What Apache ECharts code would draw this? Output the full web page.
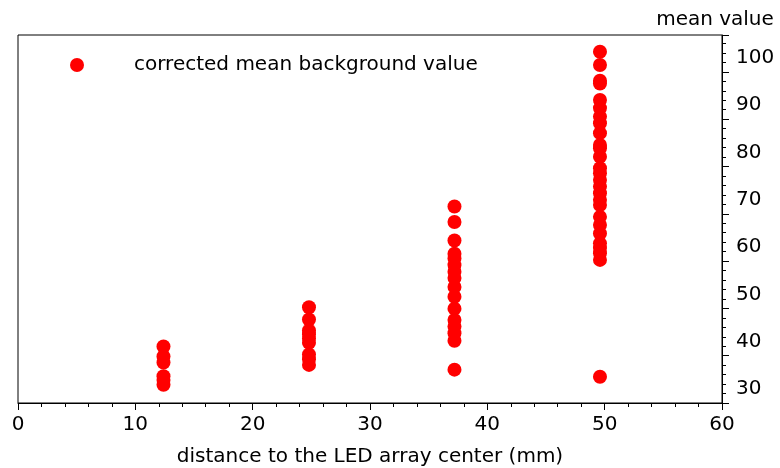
<!DOCTYPE html>
<html>
<head>
<meta charset="utf-8">
<script src="https://cdn.jsdelivr.net/npm/echarts@6/dist/echarts.min.js"></script>
<style>html,body{margin:0;padding:0;background:#fff}#c{width:780px;height:468px}</style>
</head>
<body>
<div id="c"></div>
<script>
const distances = [12.4, 24.8, 37.2, 49.6];
const values12 = [39.0, 36.9, 35.6, 32.7, 31.9, 30.9];
const values25 = [47.3, 44.7, 42.4, 41.6, 40.7, 39.8, 37.3, 36.3, 35.1];
const values37 = [68.6, 65.3, 61.4, 58.6, 57.6, 56.2, 54.8, 53.5, 51.6, 49.5, 47.0, 44.6, 43.2, 41.8, 40.2, 34.1];
const values50 = [101.3, 98.5, 95.2, 94.6, 91.1, 89.4, 87.6, 86.2, 84.1, 81.6, 80.9, 79.1, 76.7, 75.6, 74.2, 72.8, 71.4, 70.0, 68.9, 66.4, 64.7, 62.9, 60.8, 59.8, 58.7, 57.3, 32.6];
const seriesName = 'corrected mean background value';
const xTicks = [0, 10, 20, 30, 40, 50, 60];
const yTicks = [30, 40, 50, 60, 70, 80, 90, 100];

const groups = [values12, values25, values37, values50];
const points = [];
groups.forEach((g, i) => g.forEach(v => points.push([distances[i], v])));

const font = 'DejaVu Sans';
const fs = 20;
const chart = echarts.init(document.getElementById('c'), null, {renderer: 'canvas'});
chart.setOption({
  animation: false,
  backgroundColor: '#fff',
  grid: {left: 18, right: 58, top: 35, bottom: 65, show: true, borderColor: '#000', borderWidth: 1,
    containLabel: false, outerBoundsMode: 'none'},
  legend: {
    left: 70, top: 55, padding: 0,
    icon: 'circle', itemWidth: 14, itemHeight: 14,
    textStyle: {fontFamily: font, fontSize: fs, color: '#000', padding: [0, 0, 0, 45]},
    data: [seriesName]
  },
  xAxis: {
    type: 'value', min: 0, max: 60, interval: 10,
    name: 'distance to the LED array center (mm)', nameLocation: 'middle', nameGap: 44,
    nameTextStyle: {fontFamily: font, fontSize: fs, color: '#000'},
    axisLine: {show: true, onZero: false, lineStyle: {color: '#000', width: 1}},
    axisTick: {show: true, inside: false, length: 7, lineStyle: {color: '#000'}},
    minorTick: {show: true, splitNumber: 5, length: 4, lineStyle: {color: '#000'}},
    axisLabel: {fontFamily: font, fontSize: fs, color: '#000', margin: 12},
    splitLine: {show: false}
  },
  yAxis: {
    type: 'value', position: 'right', min: 27.05, max: 104.85, interval: 10,
    name: 'mean value', nameLocation: 'end', nameGap: 5,
    nameTextStyle: {fontFamily: font, fontSize: fs, color: '#000', align: 'center', padding: [0, 0, 0, -14]},
    axisLine: {show: true, onZero: false, lineStyle: {color: '#000', width: 1}},
    axisTick: {show: true, inside: false, length: 7, lineStyle: {color: '#000'}},
    minorTick: {show: true, splitNumber: 5, length: 4, lineStyle: {color: '#000'}},
    axisLabel: {fontFamily: font, fontSize: fs, color: '#000', margin: 14,
      customValues: yTicks},
    splitLine: {show: false}
  },
  series: [{
    name: seriesName, type: 'scatter', symbol: 'circle', symbolSize: 14,
    itemStyle: {color: '#ff0000', opacity: 1},
    data: points
  }]
});
</script>
</body>
</html>
